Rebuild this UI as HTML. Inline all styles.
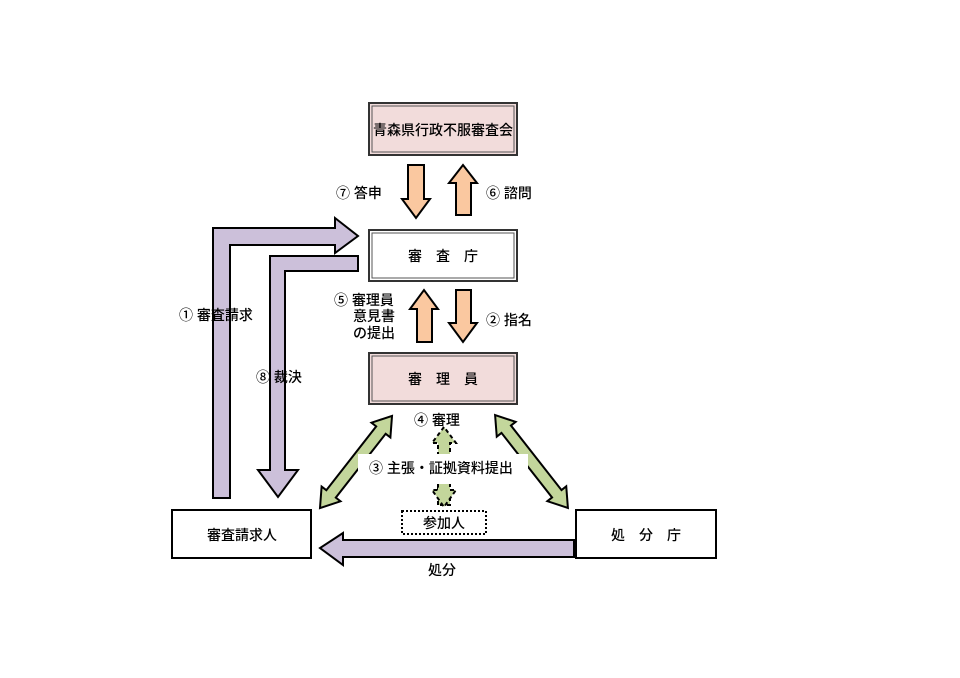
<!DOCTYPE html>
<html><head><meta charset="utf-8"><style>
html,body{margin:0;padding:0;background:#fff;}
svg{display:block;}
text{font-family:"Liberation Sans","Noto Sans CJK JP",sans-serif;font-size:14px;fill:#000;font-weight:500;}
</style></head><body>
<svg width="960" height="678" viewBox="0 0 960 678" xmlns="http://www.w3.org/2000/svg">
<g stroke="#000" stroke-width="2" stroke-linejoin="miter">
<polygon points="213,498 213,228 335,228 335,218 358,236 335,253 335,245 230,245 230,498" fill="#ccc0da"/>
<polygon points="358,256 358,271 285,271 285,470 298,470 278,497 258,470 270,470 270,256" fill="#ccc0da"/>
<polygon points="574,540 574,557 343,557 343,565 320,548 343,533 343,540" fill="#ccc0da"/>
<polygon points="408,165 424,165 424,199 430,199 416,218 402,199 408,199" fill="#fac8a0"/>
<polygon points="456,215 471,215 471,183 477,183 463,165 449,183 456,183" fill="#fac8a0"/>
<polygon points="417,342 432,342 432,309 438,309 424,290 410,309 417,309" fill="#fac8a0"/>
<polygon points="456,290 471,290 471,323 477,323 463,342 449,323 456,323" fill="#fac8a0"/>
<polygon transform="translate(356,462) rotate(128)" points="-58.5,0 -40.5,-12 -40.5,-6 40.5,-6 40.5,-12 58.5,0 40.5,12 40.5,6 -40.5,6 -40.5,12" fill="#c3d69b"/>
<polygon transform="translate(531.5,461.5) rotate(51.9)" points="-59,0 -41,-12 -41,-6 41,-6 41,-12 59,0 41,12 41,6 -41,6 -41,12" fill="#c3d69b"/>
</g>
<g stroke="#000" stroke-width="2" stroke-dasharray="4,3" fill="#c3d69b">
<polygon points="438,505 438,443 432,443 444,427 456,443 450,443 450,505"/>
<polygon points="438,460 450,460 450,490 456,490 444,507 432,490 438,490"/>
</g>
<rect x="358" y="454" width="170" height="30" fill="#fff"/>
<rect x="369" y="103" width="148" height="52" fill="#f2dcdb" stroke="#333" stroke-width="2"/>
<rect x="372" y="106" width="142" height="46" fill="none" stroke="#555" stroke-width="1"/>
<rect x="369" y="230" width="148" height="51" fill="#fff" stroke="#333" stroke-width="2"/>
<rect x="372" y="233" width="142" height="45" fill="none" stroke="#555" stroke-width="1"/>
<rect x="369" y="353" width="148" height="51" fill="#f2dcdb" stroke="#333" stroke-width="2"/>
<rect x="372" y="356" width="142" height="45" fill="none" stroke="#555" stroke-width="1"/>
<rect x="172" y="510" width="139" height="48" fill="#fff" stroke="#000" stroke-width="2"/>
<rect x="576" y="510" width="140" height="48" fill="#fff" stroke="#000" stroke-width="2"/>
<rect x="402" y="511" width="84" height="23" fill="#fff" stroke="#000" stroke-width="2" stroke-dasharray="2,2"/>
<text x="443" y="135" text-anchor="middle">青森県行政不服審査会</text>
<text x="443" y="261" text-anchor="middle">審　査　庁</text>
<text x="443" y="384" text-anchor="middle">審　理　員</text>
<text x="242" y="540" text-anchor="middle">審査請求人</text>
<text x="646" y="540" text-anchor="middle">処　分　庁</text>
<text x="444" y="528" text-anchor="middle">参加人</text>
<text x="336" y="198">⑦ 答申</text>
<text x="486" y="198">⑥ 諮問</text>
<text x="179" y="320">① 審査請求</text>
<text x="486" y="325">② 指名</text>
<text x="334" y="305">⑤ 審理員</text>
<text x="353" y="321">意見書</text>
<text x="353" y="338">の提出</text>
<text x="256" y="382">⑧ 裁決</text>
<text x="414" y="425">④ 審理</text>
<text x="369" y="473">③ 主張・証拠資料提出</text>
<text x="442" y="575" text-anchor="middle">処分</text>
</svg>
</body></html>
